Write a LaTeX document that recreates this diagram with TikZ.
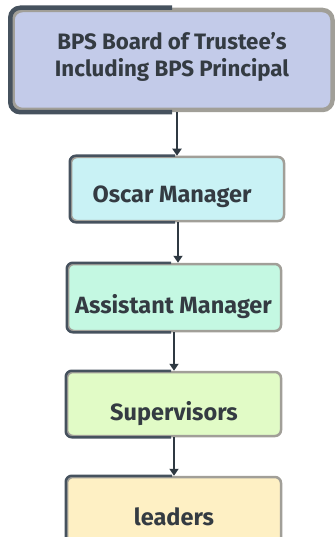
\documentclass[tikz,border=0pt]{standalone}
\usepackage{fontspec}
\setmainfont{Fira Sans}
\usetikzlibrary{arrows.meta}
\definecolor{bdark}{HTML}{46525E}
\definecolor{bgray}{HTML}{A19F98}
\definecolor{txt}{HTML}{343B42}
\definecolor{arrc}{HTML}{2F3942}
\definecolor{ftop}{HTML}{C3CBE9}
\definecolor{fosc}{HTML}{C9F2F5}
\definecolor{fass}{HTML}{C4F8E2}
\definecolor{fsup}{HTML}{E1FBC6}
\definecolor{flea}{HTML}{FEF0C4}
\newcommand\twotone[4]{%
  \begin{scope}
    \clip (-10,-10) rectangle (#2,600);
    \draw[bdark, line width=#3, rounded corners=#4] (#1.north west) rectangle (#1.south east);
  \end{scope}}
\begin{document}
\begin{tikzpicture}[x=1pt,y=-1pt,
  box/.style={rectangle, draw=bgray, inner sep=0pt},
  lbl/.style={text=txt, font=\bfseries\fontsize{23.5}{27}\selectfont, align=center, inner sep=0pt},
  lbltop/.style={lbl, font=\bfseries\fontsize{22.3}{27}\selectfont},
  arr/.style={arrc, line width=2pt, -{Triangle[width=9pt,length=7pt]}}]
\useasboundingbox (0,0) rectangle (335,537);
\node[box, fill=ftop, line width=4.5pt, rounded corners=10pt, minimum width=320pt, minimum height=100pt] (top) at (172.5,60) {};
\node[box, fill=fosc, line width=2.5pt, rounded corners=6pt, minimum width=213pt, minimum height=64pt] (osc) at (177.5,189) {};
\node[box, fill=fass, line width=2.5pt, rounded corners=6pt, minimum width=213pt, minimum height=67pt] (ass) at (174.5,297.5) {};
\node[box, fill=fsup, line width=2.5pt, rounded corners=6pt, minimum width=214pt, minimum height=64pt] (sup) at (174,404) {};
\node[box, fill=flea, line width=2.5pt, rounded corners=6pt, minimum width=214pt, minimum height=84pt] (lea) at (174,519) {};
\twotone{top}{172}{4.5pt}{10pt}
\twotone{osc}{175}{2.5pt}{6pt}
\twotone{ass}{171}{2.5pt}{6pt}
\twotone{sup}{171}{2.5pt}{6pt}
\twotone{lea}{172}{2.5pt}{6pt}
\node[lbltop] (ttop) at (172,57) {BPS Board of Trustee’s\\Including BPS Principal};
\node[lbl, anchor=base] (tosc) at (172,202) {Oscar Manager};
\node[lbl, anchor=base] (tass) at (173.5,313) {Assistant Manager};
\node[lbl, anchor=base] (tsup) at (174,420) {Supervisors};
\node[lbl, anchor=base] (tlea) at (174,525) {leaders};
\draw[arr] ([xshift=4.5pt]top.south) -- ([xshift=-0.5pt]osc.north);
\draw[arr] ([xshift=0.5pt]osc.south) -- ([xshift=3.5pt]ass.north);
\draw[arr] ([xshift=-0.5pt]ass.south) -- (sup.north);
\draw[arr] (sup.south) -- (lea.north);
\end{tikzpicture}
\end{document}
